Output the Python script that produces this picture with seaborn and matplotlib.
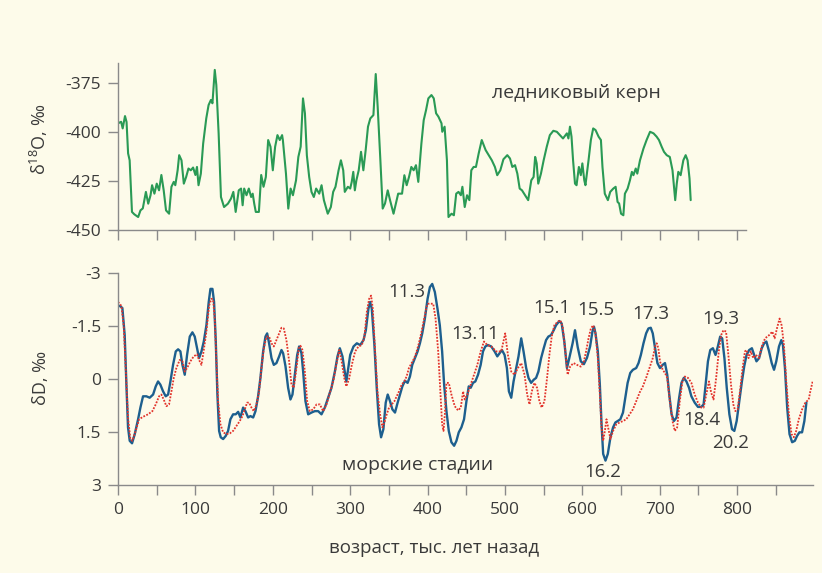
import numpy as np
import matplotlib
matplotlib.use("Agg")
import matplotlib.pyplot as plt
import seaborn as sns

# Ice core record (top panel)
ice_age = [0, 4, 6, 9, 11, 13, 15, 18, 21, 26, 29, 32, 36, 39, 42, 44, 47, 50, 53, 56,
           59, 62, 66, 69, 72, 74, 77, 79, 82, 85, 88, 91, 94, 97, 100, 102, 104, 107, 110, 114,
           117, 120, 122, 125, 127, 130, 133, 137, 142, 146, 149, 152, 156, 159, 161, 163, 166, 169, 172, 174,
           176, 178, 182, 185, 188, 191, 194, 197, 200, 203, 206, 209, 212, 213, 217, 220, 223, 226, 230, 233,
           236, 239, 241.5, 244, 247, 250, 253, 256, 260, 263, 266, 271, 275, 278, 281, 285, 288, 291, 293, 297,
           300, 302, 304, 306, 308, 311, 314, 317, 320, 323, 326, 330, 333, 335.5, 339, 342, 345, 348.5, 351.5, 356,
           359, 362, 367, 370, 373, 376, 379, 382, 385, 388, 392, 395, 398, 401, 405, 408, 411, 414, 418, 419,
           422, 425, 427, 431, 434, 437, 440, 443, 445, 448, 451, 454, 456.5, 459.5, 462.5, 466, 470, 475, 479, 483,
           487, 490, 494, 498, 503, 506.5, 509.5, 513, 516, 519, 522, 526, 530, 534, 537, 539, 541, 543, 546.5, 550,
           554, 558, 562.5, 567, 571, 575, 580, 582, 584, 586, 588, 590.5, 592.5, 595.5, 598, 600, 602.5, 604, 608, 611,
           614, 617, 621, 624, 626, 629, 633, 636, 640, 643, 645.5, 647.5, 650, 653, 655, 658.5, 661.5, 664, 666, 669,
           671, 674.5, 679, 683, 687.5, 692, 696, 699, 702.5, 705.5, 709, 713, 716.5, 720, 722, 724, 727, 730.5, 733.5, 736,
           738.5, 740]
ice_d18o = [-395.7, -394.9, -398.3, -392, -395, -411, -414.5, -440.8, -442, -443.4, -440, -439, -430.6, -436.6, -432.3, -427.2, -431.5, -426.4, -429.8, -422,
            -429.8, -440, -441.7, -428, -425.5, -427.2, -419.6, -411.9, -414.5, -426.4, -423, -418.7, -419.6, -418.2, -422, -417.9, -427.2, -421.3, -406, -393.2,
            -386.4, -383.8, -385.5, -368.5, -376.2, -400.9, -433.2, -438.3, -436.6, -434, -430.6, -440.8, -429.8, -428.9, -437.4, -428.9, -432.3, -428.9, -433.2, -431.5,
            -436.6, -440.8, -440.8, -422, -428, -423, -404.2, -407.6, -419.6, -407.6, -401.7, -404.2, -401.7, -404.2, -421.3, -439.1, -428.9, -432.3, -424.7, -412.8,
            -407.6, -383, -390.6, -412, -423, -430.6, -433.2, -428.9, -431.5, -427.2, -434.8, -441.7, -438.3, -430.6, -428, -419.6, -414.5, -419.6, -430.6, -428,
            -428.9, -425.5, -420.4, -429.8, -424.7, -419.6, -410.2, -419.6, -409.3, -397.4, -393.2, -391.5, -370.6, -387.2, -414.5, -439.1, -436.5, -429.8, -434.8, -441.7,
            -436.5, -431.5, -431.5, -422.1, -427.2, -423, -417.9, -419.6, -417, -425.5, -406, -394.1, -389, -383, -381.3, -383, -390.6, -392.3, -395.7, -400,
            -397.4, -414.5, -443.4, -441.7, -442.5, -431.5, -430.6, -432.3, -428, -438.3, -432.3, -434.8, -419.6, -417.9, -417.9, -411.1, -404.2, -409.3, -411.9, -414.5,
            -417.9, -422.1, -419.6, -414, -411.9, -413.6, -417.9, -417, -421.3, -428.9, -429.8, -432.3, -434.8, -424.7, -423, -412.8, -416.1, -426.4, -421.3, -414.5,
            -407.6, -401.7, -399.5, -400, -401.7, -403.4, -400.8, -403.4, -397.4, -402.5, -414.5, -426.4, -427.2, -417.9, -422.1, -416.1, -424.7, -427.2, -414.5, -404.2,
            -398.3, -399.1, -402.5, -404.2, -417.9, -431.5, -434.8, -430.6, -428.9, -428, -435.7, -436.5, -441.7, -442.5, -431.5, -428.9, -424.7, -420.4, -422.1, -418.7,
            -421.3, -414.5, -408.5, -404.2, -400, -400.8, -402.5, -404.2, -407.6, -410.2, -411.9, -412.8, -419.6, -434.8, -426.4, -420.4, -422.1, -414.5, -411.9, -414.5,
            -423.8, -434.8]

# Modelled dD (blue, solid)
model_age = [2, 5.6, 8.6, 10.8, 12.9, 15.1, 18.1, 21.6, 25.9, 28.9, 32.3, 36.6, 40.9, 45.3, 48.7, 51.7, 54.7, 58.2, 61.6, 64.7,
             67.7, 71.1, 74.6, 77.6, 80.6, 83.2, 86.2, 89.2, 92.7, 96.1, 99.1, 102.1, 104.7, 107.8, 110.8, 114.2, 117.2, 119.4, 122, 124.1,
             126.3, 128.4, 130.6, 132.7, 135.8, 139.2, 142.2, 145.2, 148.7, 152.1, 155.2, 158.2, 161.6, 164.6, 168.1, 171.1, 174.6, 177.6, 181, 184,
             187.5, 190.5, 192.7, 195.2, 198.3, 201.3, 204.7, 208.2, 211.2, 213.3, 216.4, 219.8, 222.8, 225.4, 228.4, 231.5, 234, 237, 239.2, 242.2,
             245.7, 250, 254.3, 258.6, 262.9, 267.2, 271.5, 275.8, 280.2, 283.6, 286.6, 290, 293, 295, 297.5, 300, 304.3, 308.6, 312.9, 317.2,
             320.2, 323.6, 325.7, 327.9, 331.3, 334.3, 337.3, 339.9, 342.9, 345.9, 348.5, 351.5, 354.5, 357.9, 361.3, 364.3, 367.4, 370.8, 374.2, 377.2,
             380.2, 383.7, 387.1, 390.1, 393.1, 396.5, 400, 403, 406, 409.4, 412.8, 415.8, 418.8, 421.4, 424.4, 427.4, 430.8, 434.3, 437.3, 440.3,
             443.7, 447.1, 450.2, 453.2, 455.7, 458.7, 461.7, 465.2, 468.6, 471.6, 474.6, 478, 482.3, 486.6, 490.1, 493.1, 496.1, 499.5, 502.5, 505.1,
             508.1, 511.1, 514.5, 517.5, 521, 524, 527.4, 530.4, 533.8, 537.2, 540.2, 543.2, 546.7, 550.1, 553.1, 556.1, 559.5, 563, 566, 570.3,
             573.3, 576.7, 580.1, 583.1, 587.4, 590.5, 594, 598, 602, 606, 610, 613, 615, 617, 620, 622.6, 624.8, 626.9, 629.9, 632.9,
             636.3, 639.7, 642.7, 645.7, 649.1, 652.5, 655.5, 658.5, 661.9, 665.3, 669.6, 672.6, 675.6, 679, 682.4, 685.4, 688.4, 691, 694, 697,
             700.3, 703.8, 706.8, 709.7, 712.3, 715.3, 718.3, 721.7, 725.1, 728.1, 731.1, 734.5, 737.9, 740.9, 745.2, 749.4, 753.7, 756.7, 759.3, 762.3,
             765.3, 768.7, 772.1, 775.1, 778.1, 780.7, 783.6, 786.6, 790, 793.4, 796.4, 799.4, 802.8, 806.2, 809.2, 812.2, 815.6, 819.1, 822, 825,
             828.4, 831.8, 834.9, 837.8, 841.3, 844.7, 847.7, 850.6, 854.1, 857.1, 859.2, 861.8, 864.7, 867.7, 871.1, 874.6, 877.5, 880.5, 883.9, 886.9,
             889.5]
model_dd = [-2.07, -2.01, -1.24, 0.16, 1.37, 1.75, 1.82, 1.56, 1.14, 0.81, 0.49, 0.49, 0.53, 0.44, 0.21, 0.07, 0.16, 0.35, 0.49, 0.44,
            0.07, -0.40, -0.78, -0.84, -0.78, -0.40, -0.12, -0.68, -1.20, -1.32, -1.20, -0.87, -0.59, -0.78, -1.06, -1.52, -2.18, -2.55, -2.55, -2.18,
            -1.06, 0.44, 1.47, 1.65, 1.70, 1.61, 1.47, 1.14, 1.00, 1.00, 0.93, 1.09, 0.81, 0.91, 1.09, 1.05, 1.09, 0.91, 0.49, -0.03,
            -0.78, -1.20, -1.29, -1.01, -0.59, -0.40, -0.45, -0.64, -0.82, -0.73, -0.36, 0.25, 0.58, 0.44, -0.12, -0.68, -0.92, -0.73, -0.21, 0.63,
            1.00, 0.95, 0.91, 0.91, 1.00, 0.81, 0.53, 0.25, -0.21, -0.64, -0.87, -0.64, -0.20, 0.07, -0.30, -0.68, -0.92, -1.01, -0.96, -1.10,
            -1.38, -1.99, -2.18, -1.99, -0.96, 0.25, 1.28, 1.65, 1.42, 0.67, 0.44, 0.63, 0.86, 0.95, 0.67, 0.44, 0.21, 0.05, 0.11, -0.07,
            -0.40, -0.59, -0.78, -1.01, -1.29, -1.71, -2.27, -2.60, -2.69, -2.46, -1.99, -1.52, -0.78, 0.16, 0.91, 1.47, 1.79, 1.89, 1.75, 1.51,
            1.37, 1.14, 0.63, 0.21, 0.25, 0.11, 0.07, -0.12, -0.40, -0.78, -0.92, -0.96, -0.92, -0.78, -0.64, -0.73, -0.82, -0.68, -0.31, 0.35,
            0.53, 0.07, -0.31, -0.64, -1.15, -0.78, -0.31, -0.03, 0.11, 0.02, -0.03, -0.21, -0.59, -0.87, -1.10, -1.20, -1.24, -1.38, -1.52, -1.64,
            -1.57, -1.06, -0.31, -0.59, -1.01, -1.38, -0.90, -0.50, -0.42, -0.60, -0.92, -1.34, -1.48, -1.29, -0.78, 0.16, 1.28, 2.12, 2.31, 2.12,
            1.65, 1.37, 1.23, 1.19, 1.14, 0.95, 0.53, 0.11, -0.17, -0.26, -0.31, -0.45, -0.68, -1.01, -1.29, -1.43, -1.45, -1.29, -0.87, -0.45,
            -0.31, -0.40, -0.45, -0.12, 0.44, 1.00, 1.19, 1.09, 0.53, 0.11, -0.03, 0.07, 0.25, 0.49, 0.67, 0.79, 0.79, 0.72, 0.16, -0.50,
            -0.82, -0.87, -0.68, -0.92, -1.20, -1.15, -0.59, 0.25, 1.00, 1.42, 1.47, 1.19, 0.63, 0.07, -0.36, -0.68, -0.82, -0.87, -0.68, -0.50,
            -0.59, -0.87, -1.01, -1.06, -0.78, -0.45, -0.26, -0.50, -0.92, -1.10, -0.96, -0.31, 0.81, 1.56, 1.79, 1.75, 1.61, 1.51, 1.51, 1.19,
            0.67]

# Marine stack (red, dotted)
marine_age = [0, 4.3, 7.3, 9.9, 12.9, 15.9, 18.5, 22.8, 27.2, 32.3, 38.8, 44.4, 48.7, 53, 56, 59, 62.5, 65.9, 69, 72,
              75.4, 79.7, 83.2, 86.2, 89.2, 93.5, 97.8, 102.1, 104.7, 107.8, 110.8, 114.2, 117.7, 120.7, 122.8, 125, 127.1, 129.3, 132.3, 135.8,
              140.1, 144.4, 148.7, 153, 157.3, 160.8, 163.8, 166.8, 169.4, 172.4, 175.4, 178.9, 182.3, 185.3, 188.4, 191.8, 195.2, 198.3, 201.3, 204.7,
              208.2, 211.2, 214.2, 217.6, 221.1, 224.1, 227.1, 230.6, 233.6, 235.7, 238.3, 241.4, 244.4, 247.9, 252.2, 256.5, 260.8, 265.1, 269.4, 273.7,
              278.1, 282.4, 285.9, 288.9, 292.3, 295, 298.5, 302.1, 306.4, 310.7, 315, 318.4, 321.5, 324.5, 327, 329.2, 332.2, 335.2, 338.6, 341.6,
              344.2, 347.2, 350.2, 353.6, 357.1, 360.1, 363.1, 366.5, 369.9, 372.9, 375.9, 379.4, 382.8, 385.8, 388.8, 392.2, 395.7, 398.7, 400.8, 404.3,
              407.3, 410.3, 413.7, 416.7, 418.8, 420.6, 422.3, 424.4, 427.4, 430.8, 435.1, 439.4, 442.9, 445.9, 448, 451.4, 455.7, 460, 464.3, 468.6,
              472.9, 477.2, 482.3, 488.7, 495.2, 500.3, 503.8, 508.1, 512.4, 516.7, 521, 525.3, 528.7, 531.7, 534.7, 538.1, 541.5, 544.5, 547.5, 551,
              554.4, 557.4, 560.4, 563.8, 568.1, 571.6, 574.6, 577.6, 581, 584.4, 588.7, 593, 598, 602, 605, 608, 611, 614, 617, 620,
              622.6, 624.8, 626.9, 629.1, 631.2, 633.3, 636.3, 639.7, 644, 648.3, 652.5, 656.8, 661.1, 665.3, 669.6, 673.9, 678.2, 682.4, 686.7, 691,
              694, 696.1, 698.2, 700.3, 703.8, 706.8, 709.7, 713.1, 716.5, 719.5, 722.5, 725.9, 729.3, 732.4, 736.6, 740.9, 745.2, 749.4, 753.7, 756.7,
              760.1, 763.6, 766.5, 769.5, 772.9, 776.3, 779.3, 782.3, 785.7, 788.7, 792.1, 795.1, 797.7, 800.7, 803.7, 807.1, 810.1, 812.2, 814.8, 817.8,
              820.8, 824.2, 828.4, 831.8, 836.1, 841.3, 845.5, 848.5, 852, 854.9, 857.5, 860.5, 863.5, 866.9, 870.3, 873.3, 876.3, 879.7, 884, 888.2,
              892.5, 894.6, 897.6]
marine_dd = [-2.18, -2.07, -1.52, -0.31, 1.09, 1.70, 1.75, 1.47, 1.14, 1.07, 1.00, 0.91, 0.72, 0.49, 0.44, 0.58, 0.77, 0.72, 0.35, -0.03,
             -0.31, -0.54, -0.50, -0.21, -0.31, -0.50, -0.64, -0.70, -0.54, -0.40, -0.82, -1.34, -2.08, -2.27, -2.25, -1.71, -0.50, 0.63, 1.28, 1.51,
             1.56, 1.54, 1.47, 1.33, 1.19, 1.05, 0.86, 0.67, 0.67, 0.81, 0.91, 0.72, 0.35, -0.31, -0.87, -1.20, -1.20, -1.01, -0.92, -1.10,
             -1.29, -1.45, -1.43, -1.10, -0.50, 0.16, 0.25, -0.31, -0.87, -0.94, -0.82, -0.21, 0.63, 0.91, 0.86, 0.72, 0.72, 0.91, 0.72, 0.39,
             0.07, -0.45, -0.82, -0.50, -0.03, 0.21, 0.00, -0.40, -0.78, -0.92, -0.96, -1.20, -1.90, -2.27, -2.36, -1.99, -0.78, 0.35, 1.00, 1.37,
             1.23, 1.00, 0.81, 0.72, 0.63, 0.49, 0.35, 0.16, 0.07, -0.07, -0.31, -0.45, -0.59, -0.78, -1.01, -1.34, -1.71, -2.04, -2.13, -2.13,
             -2.13, -1.71, -0.78, 0.44, 1.28, 1.47, 1.00, 0.11, 0.11, 0.44, 0.77, 0.89, 0.81, 0.35, 0.58, 0.44, 0.16, -0.12, -0.40, -0.78,
             -1.06, -0.96, -0.92, -0.78, -0.78, -1.29, -0.68, -0.21, -0.12, -0.31, -0.45, -0.12, 0.44, 0.72, 0.35, 0.11, 0.25, 0.63, 0.81, 0.63,
             -0.03, -0.68, -1.20, -1.52, -1.62, -1.66, -1.48, -0.87, -0.12, -0.36, -0.45, -0.40, -0.35, -0.50, -0.80, -1.15, -1.43, -1.52, -1.29, -0.59,
             0.44, 1.37, 1.75, 1.47, 1.14, 1.37, 1.70, 1.47, 1.28, 1.23, 1.19, 1.14, 1.00, 0.86, 0.63, 0.39, 0.21, -0.03, -0.31, -0.59,
             -0.92, -1.01, -0.87, -0.50, -0.26, -0.17, -0.03, 0.63, 1.19, 1.47, 1.37, 0.63, 0.07, -0.07, -0.03, 0.11, 0.44, 0.67, 0.81, 0.81,
             0.44, 0.07, 0.39, 0.58, -0.03, -0.78, -1.24, -1.38, -1.34, -0.68, 0.16, 0.72, 0.91, 0.86, 0.35, -0.31, -0.78, -0.82, -0.59, -0.78,
             -0.59, -0.68, -0.59, -0.92, -1.15, -1.24, -1.34, -1.15, -1.48, -1.71, -1.52, -0.96, 0.07, 1.00, 1.56, 1.65, 1.47, 1.14, 0.86, 0.67,
             0.58, 0.35, 0.07]

# Marine isotope stage labels
stage_names = ["11.3", "13.11", "15.1", "15.5", "17.3", "19.3", "16.2", "18.4", "20.2"]
stage_x = [373, 462, 561, 618, 689, 779, 626, 755, 792]
stage_y = [-2.47, -1.26, -2.02, -1.94, -1.83, -1.69, 2.64, 1.15, 1.80]

bg = "#fdfbea"
text_col = "#3a3a3a"
axis_col = "#8a8a8a"

sns.set_theme(style="ticks")
plt.rcParams["font.family"] = ["Open Sans", "DejaVu Sans"]
plt.rcParams["mathtext.fontset"] = "custom"
plt.rcParams["mathtext.rm"] = "Open Sans"
plt.rcParams["axes.unicode_minus"] = False

fig = plt.figure(figsize=(8.22, 5.73), dpi=100, facecolor=bg)
ax1 = fig.add_axes([0.1436, 0.5986, 0.8454, 0.2914])
ax2 = fig.add_axes([0.1436, 0.1536, 0.8454, 0.37])

# Top panel: ice core
sns.lineplot(x=ice_age, y=ice_d18o, ax=ax1, color="#2a9a55", linewidth=1.5,
             estimator=None, sort=False)
ax1.set_xlim(0, 898)
ax1.set_ylim(-450, -365)
ax1.set_yticks([-450, -425, -400, -375])
ax1.set_xticks(np.arange(0, 801, 50))
ax1.set_xticklabels([])
ax1.spines["bottom"].set_bounds(0, 812)
ax1.text(592, -380.5, "ледниковый керн", ha="center", va="center",
         fontsize=14, color=text_col)
ax1.set_ylabel(r"δ$^{\mathregular{18}}$O, ‰", fontsize=13, color=text_col)
ax1.yaxis.set_label_coords(-0.098, 0.545)

# Bottom panel: marine stages
sns.lineplot(x=model_age, y=model_dd, ax=ax2, color="#1d5f8e", linewidth=1.7,
             estimator=None, sort=False)
sns.lineplot(x=marine_age, y=marine_dd, ax=ax2, color="#e2332b", linewidth=1.3,
             linestyle=(0, (1, 0.8)), estimator=None, sort=False)
ax2.set_xlim(0, 898)
ax2.set_ylim(3, -3)
ax2.set_yticks([3, 1.5, 0, -1.5, -3])
ax2.set_yticklabels(["3", "1.5", "0", "-1.5", "-3"])
ticks = np.arange(0, 851, 50)
ax2.set_xticks(ticks)
ax2.set_xticklabels([str(t) if t % 100 == 0 and t <= 800 else "" for t in ticks])
for name, sx, sy in zip(stage_names, stage_x, stage_y):
    ax2.text(sx, sy, name, ha="center", va="center", fontsize=13.5, color=text_col)
ax2.text(387, 2.44, "морские стадии", ha="center", va="center",
         fontsize=14, color=text_col)
ax2.set_ylabel("δD, ‰", fontsize=13, color=text_col)
ax2.yaxis.set_label_coords(-0.098, 0.505)
ax2.set_xlabel("возраст, тыс. лет назад", fontsize=13.5, color=text_col)
ax2.xaxis.set_label_coords(0.455, -0.255)

for ax in (ax1, ax2):
    ax.set_facecolor(bg)
    sns.despine(ax=ax)
    for s in ("left", "bottom"):
        ax.spines[s].set_color(axis_col)
        ax.spines[s].set_linewidth(1.0)
    ax.tick_params(axis="both", direction="out", length=7, width=1.0,
                   color=axis_col, labelsize=12.5, labelcolor=text_col, pad=5)

fig.savefig("out.png", dpi=100, facecolor=bg)
